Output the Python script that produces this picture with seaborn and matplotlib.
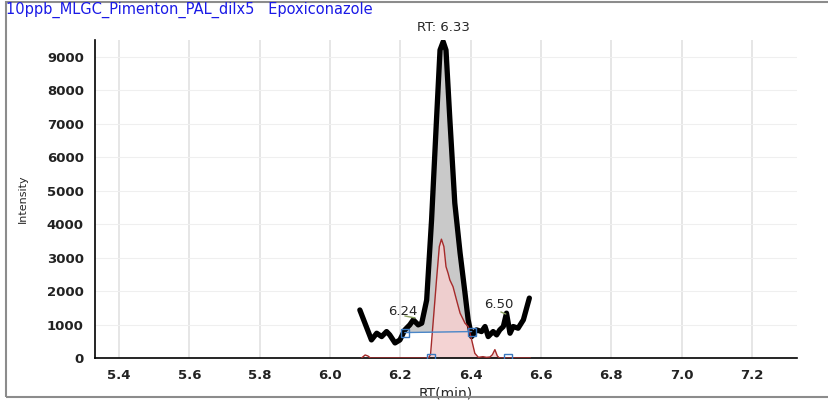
import numpy as np
import pandas as pd
import matplotlib
matplotlib.use("Agg")
import matplotlib.pyplot as plt
from matplotlib.patches import Rectangle
from matplotlib.ticker import MultipleLocator
import seaborn as sns

# ---- data ----
rt_main = [6.085, 6.118, 6.133, 6.147, 6.161, 6.170, 6.185, 6.199, 6.213, 6.227,
           6.237, 6.251, 6.261, 6.275, 6.289, 6.303, 6.313, 6.322, 6.330, 6.341,
           6.355, 6.370, 6.384, 6.393, 6.403, 6.417, 6.431, 6.441, 6.450, 6.464,
           6.474, 6.483, 6.493, 6.502, 6.512, 6.521, 6.535, 6.550, 6.567]
int_main = [1435, 540, 740, 640, 790, 690, 450, 540, 840, 990,
            1140, 990, 1040, 1730, 4130, 7120, 9200, 9450, 9200, 7120,
            4630, 3140, 1940, 1140, 640, 840, 790, 940, 640, 790,
            690, 840, 940, 1340, 740, 940, 890, 1140, 1790]

rt_qual = [6.090, 6.100, 6.108, 6.115, 6.280, 6.286, 6.294, 6.303, 6.311, 6.317,
           6.324, 6.330, 6.336, 6.341, 6.350, 6.360, 6.370, 6.384, 6.393, 6.403,
           6.412, 6.422, 6.435, 6.445, 6.455, 6.462, 6.469, 6.476, 6.482, 6.570]
int_qual = [0, 90, 60, 0, 0, 100, 1140, 2330, 3330, 3550,
            3330, 2730, 2530, 2330, 2130, 1730, 1340, 1040, 940, 540,
            140, 20, 40, 20, 30, 100, 250, 60, 0, 0]

# integration limits / baseline
base_rt = [6.213, 6.403]
base_int = [760, 790]
qual_limits = [6.287, 6.506]

peak_label = "RT: 6.33"
peak_pos = (6.324, 9860)
side_labels = ["6.24", "6.50"]
side_pos = [(6.207, 1400), (6.480, 1590)]

title_text = "10ppb_MLGC_Pimenton_PAL_dilx5   Epoxiconazole"

# ---- figure ----
sns.set_style("white")
plt.rcParams["font.family"] = ["DejaVu Sans"]

fig = plt.figure(figsize=(8.29, 4.03), dpi=100)
ax = fig.add_axes([95 / 829, 1 - 358 / 403, (797 - 95) / 829, (358 - 40) / 403])

df_main = pd.DataFrame({"rt": rt_main, "intensity": int_main})
df_qual = pd.DataFrame({"rt": rt_qual, "intensity": int_qual})

# gray area of the main peak above the baseline
m = (df_main["rt"] >= base_rt[0]) & (df_main["rt"] <= base_rt[1])
seg = df_main[m]
ax.fill_between(seg["rt"], np.interp(seg["rt"], base_rt, base_int), seg["intensity"],
                color="#c9c9c9", zorder=1, lw=0)

# pink area of the qualifier
mq = (df_qual["rt"] >= qual_limits[0] - 0.01) & (df_qual["rt"] <= qual_limits[1])
segq = df_qual[mq]
ax.fill_between(segq["rt"], 0, segq["intensity"], color="#f3cfcf", alpha=0.9, zorder=2, lw=0)

sns.lineplot(data=df_main, x="rt", y="intensity", ax=ax, color="black", lw=3.8,
             sort=False, zorder=4, solid_joinstyle="round", solid_capstyle="round")
sns.lineplot(data=df_qual, x="rt", y="intensity", ax=ax, color="#a52a2a", lw=1.0,
             sort=False, zorder=5)

# baseline + limit markers
ax.plot(base_rt, base_int, color="#4a86c8", lw=1.0, zorder=6)
ax.plot(base_rt, base_int, ls="none", marker="s", ms=6, mfc="none", mec="#3a78c0",
        mew=1.0, zorder=7)
ax.plot(qual_limits, [0, 0], ls="none", marker="s", ms=6, mfc="none", mec="#3a78c0",
        mew=1.0, zorder=7)

# labels
ax.text(peak_pos[0], peak_pos[1], peak_label, ha="center", va="center",
        fontsize=9.5, clip_on=False)
for lab, (x, y) in zip(side_labels, side_pos):
    ax.text(x, y, lab, ha="center", va="center", fontsize=9.5, zorder=8)
ax.plot([6.213, 6.242], [1256, 1196], color="#8aa060", lw=1.0, zorder=8)
ax.plot([6.486, 6.500], [1375, 1315], color="#8aa060", lw=1.0, zorder=8)

# axes styling
ax.set_xlim(5.332, 7.328)
ax.set_ylim(0, 9500)
ax.xaxis.set_major_locator(MultipleLocator(0.2))
ax.xaxis.set_minor_locator(MultipleLocator(0.05))
ax.yaxis.set_major_locator(MultipleLocator(1000))
ax.yaxis.set_minor_locator(MultipleLocator(500))
ax.xaxis.set_major_formatter(plt.FuncFormatter(lambda v, p: f"{v:.1f}"))

ax.grid(True, axis="x", which="major", color="#e2e2e2", lw=1.2, zorder=0)
ax.grid(True, axis="y", which="major", color="#efefef", lw=0.8, zorder=0)
ax.set_axisbelow(True)
for s in ["top", "right"]:
    ax.spines[s].set_visible(False)
for s in ["left", "bottom"]:
    ax.spines[s].set_color("black")
    ax.spines[s].set_linewidth(1.2)

ax.tick_params(axis="both", which="major", direction="out", length=6, width=1.2,
               color="black", labelsize=9.5, pad=2)
ax.tick_params(axis="both", which="minor", direction="out", length=4, width=1.2,
               color="black")
for t in ax.get_xticklabels() + ax.get_yticklabels():
    t.set_fontweight("bold")
    t.set_color("#222222")

ax.set_xlabel("RT(min)", fontsize=10, labelpad=3)
ax.set_ylabel("Intensity", fontsize=8, labelpad=14)

fig.text(6 / 829, 1 - 10 / 403, title_text, color="#1a1ae6", fontsize=10.5,
         ha="left", va="center")
fig.add_artist(Rectangle((6 / 829, 6 / 403), 1.0, 1 - 7.5 / 403,
                         transform=fig.transFigure, fill=False, ec="#8c8c8c", lw=1.5))

plt.savefig("out.png", dpi=100)
